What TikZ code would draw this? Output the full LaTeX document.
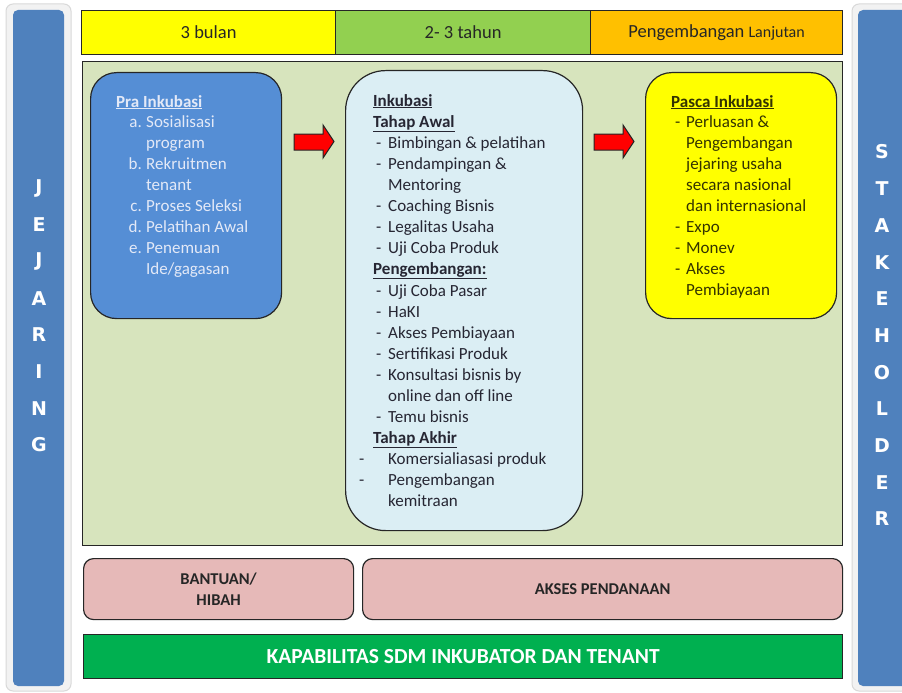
\documentclass[tikz,border=0pt]{standalone}
\usepackage{fontspec}
\setmainfont{Carlito}
\newfontfamily\sidefont{DejaVu Sans}
\definecolor{yellowH}{HTML}{FFFF00}
\definecolor{greenH}{HTML}{92D050}
\definecolor{orangeH}{HTML}{FFC000}
\definecolor{panelG}{HTML}{D7E4BD}
\definecolor{blueBox}{HTML}{558ED5}
\definecolor{midBox}{HTML}{DBEEF4}
\definecolor{pinkBox}{HTML}{E6B9B8}
\definecolor{greenBar}{HTML}{00B050}
\definecolor{sideBlue}{HTML}{4F81BD}
\definecolor{frameGray}{HTML}{F2F2F2}
\definecolor{frameEdge}{HTML}{D9D9D9}
\definecolor{lineDark}{HTML}{262626}
\definecolor{praText}{HTML}{E3E9F7}
\definecolor{midText}{HTML}{262633}
\definecolor{pascaText}{HTML}{333300}
\newcommand\dsh{\makebox[12pt][l]{-}}
\newcommand\dshw{\makebox[29pt][l]{-}}
\newcommand\hdu[1]{\underline{\textbf{#1}}}
\tikzset{
  boxbase/.style={draw=lineDark, line width=1.2pt, anchor=north west, inner sep=0pt},
  hdrbox/.style={boxbase, font=\fontsize{18.5}{22}\selectfont, text=black!85},
  sidel/.style={text=white, font=\sidefont\fontsize{19}{22}\selectfont\bfseries, inner sep=0pt},
  linetxt/.style={anchor=base west, inner sep=0pt, font=\fontsize{17}{21}\selectfont},
  pratxt/.style={linetxt, text=praText},
  midtxt/.style={linetxt, text=midText},
  pastxt/.style={linetxt, text=pascaText},
  arrowst/.style={fill=red, draw=lineDark, line width=1pt, line join=miter},
  pinkbox/.style={boxbase, fill=pinkBox, rounded corners=10pt, minimum width=270pt, minimum height=61pt},
}
\begin{document}
\begin{tikzpicture}[x=1pt,y=-1pt]
\useasboundingbox (0,0) rectangle (902,693);
\fill[white] (0,0) rectangle (902,693);

% side panels
\draw[fill=frameGray, draw=frameEdge, line width=1pt, rounded corners=7pt] (6,4) rectangle (71,691);
\fill[sideBlue, rounded corners=5pt] (13,10) rectangle (64,686);
\draw[fill=frameGray, draw=frameEdge, line width=1pt, rounded corners=7pt] (852,4) rectangle (915,691);
\fill[sideBlue, rounded corners=5pt] (858,10) rectangle (915,686);
\foreach \l [count=\i] in {J,E,J,A,R,I,N,G}
  \node[sidel] (jl\i) at (39,188+36.7*\i-36.7) {\l};
\foreach \l [count=\i] in {S,T,A,K,E,H,O,L,D,E,R}
  \node[sidel] (sl\i) at (882,152+36.7*\i-36.7) {\l};

% header
\node[hdrbox, fill=yellowH, minimum width=254pt, minimum height=44pt] (h1) at (81,10) {3 bulan};
\node[hdrbox, fill=greenH, minimum width=255pt, minimum height=44pt] (h2) at (335,10) {2- 3 tahun};
\node[hdrbox, fill=orangeH, minimum width=252pt, minimum height=44pt] (h3) at (590,10) {Pengembangan {\fontsize{16}{20}\selectfont Lanjutan}};

% main panel
\node[boxbase, fill=panelG, minimum width=760pt, minimum height=484pt] (main) at (82,61) {};

% three stage boxes
\node[boxbase, fill=blueBox, rounded corners=26pt, minimum width=191pt, minimum height=246pt] (pra) at (90,72) {};
\node[boxbase, fill=midBox, rounded corners=40pt, minimum width=237pt, minimum height=460pt] (mid) at (345,70) {};
\node[boxbase, fill=yellowH, rounded corners=26pt, minimum width=191pt, minimum height=246pt] (pasca) at (645,72) {};

% arrows
\draw[arrowst] (294,134) -- (323,134) -- (323,125) -- (334,141.5) -- (323,158) -- (323,150) -- (294,150) -- cycle;
\draw[arrowst] (594,134) -- (623,134) -- (623,125) -- (634,141.5) -- (623,158) -- (623,150) -- (594,150) -- cycle;

% Pra Inkubasi text
\node[pratxt] (prah) at (116,107) {\hdu{Pra Inkubasi}};
\foreach \lab/\yy/\txt [count=\i] in {a./122/{Sosialisasi}, {}/143/{program}, b./164/{Rekruitmen}, {}/185/{tenant}, c./206/{Proses Seleksi}, d./227/{Pelatihan Awal}, e./248/{Penemuan}, {}/269/{Ide/gagasan}}
{
  \node[pratxt] (prt\i) at (146,\yy+5) {\txt};
  \node[pratxt, anchor=base east] (prl\i) at (142,\yy+5) {\lab};
}

% Inkubasi text
\foreach \xx/\yy/\txt [count=\i] in {
  373/101/{\hdu{Inkubasi}},
  373/122/{\hdu{Tahap Awal}},
  376/143/{\dsh Bimbingan \& pelatihan},
  376/164/{\dsh Pendampingan \&},
  388/185/{Mentoring},
  376/206/{\dsh Coaching Bisnis},
  376/227/{\dsh Legalitas Usaha},
  376/248/{\dsh Uji Coba Produk},
  373/269/{\hdu{Pengembangan:}},
  376/291/{\dsh Uji Coba Pasar},
  376/312/{\dsh HaKI},
  376/333/{\dsh Akses Pembiayaan},
  376/354/{\dsh Sertifikasi Produk},
  376/375/{\dsh Konsultasi bisnis by},
  388/396/{online dan off line},
  376/417/{\dsh Temu bisnis},
  373/438/{\hdu{Tahap Akhir}},
  359/459/{\dshw Komersialiasasi produk},
  359/480/{\dshw Pengembangan},
  388/501/{kemitraan}}
  \node[midtxt] (mt\i) at (\xx,\yy+5) {\txt};

% Pasca Inkubasi text
\foreach \xx/\yy/\txt [count=\i] in {
  671/102/{\hdu{Pasca Inkubasi}},
  675/122/{\makebox[11pt][l]{-}Perluasan \&},
  686/143/{Pengembangan},
  686/164/{jejaring usaha},
  686/185/{secara nasional},
  686/206/{dan internasional},
  675/227/{\makebox[11pt][l]{-}Expo},
  675/248/{\makebox[11pt][l]{-}Monev},
  675/269/{\makebox[11pt][l]{-}Akses},
  686/290/{Pembiayaan}}
  \node[pastxt] (pt\i) at (\xx,\yy+5) {\txt};

% bottom boxes
\node[pinkbox] (bant) at (83,558) {};
\node[font=\fontsize{16.5}{21}\selectfont\bfseries, align=center, text=black!85] (bantt) at (bant.center) {BANTUAN/\\HIBAH};
\node[pinkbox, minimum width=480pt] (akses) at (362,558) {};
\node[font=\fontsize{16.5}{21}\selectfont\bfseries, text=black!85] (aksest) at (akses.center) {AKSES PENDANAAN};
\node[boxbase, fill=greenBar, minimum width=759pt, minimum height=44pt, font=\fontsize{21.5}{24}\selectfont\bfseries, text=white] (kap) at (83,634) {KAPABILITAS SDM INKUBATOR DAN TENANT};
\end{tikzpicture}
\end{document}
